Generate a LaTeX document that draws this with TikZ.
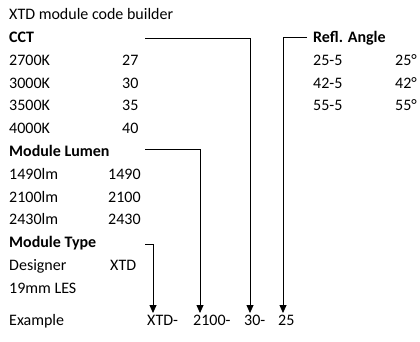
\documentclass[tikz,border=0pt]{standalone}
\usepackage{fontspec}
\setmainfont{Carlito}
\usetikzlibrary{arrows.meta}
\tikzset{
  txt/.style={anchor=base west, inner sep=0pt, font=\fontsize{16}{19}\selectfont},
  hd/.style={txt, font=\fontsize{16}{19}\selectfont\bfseries},
  link/.style={line width=0.8pt, -{Triangle[width=7pt,length=8pt]}}
}
\begin{document}
\begin{tikzpicture}[x=1pt,y=-1pt]
\useasboundingbox (0,0) rectangle (420,341);
\node [txt] (title) at (9,19.7) {XTD module code builder};
\node [hd] (cct) at (9,42.5) {CCT};
\node [txt] (k27) at (9,65.3) {2700K};
\node [txt] (v27) at (122,65.3) {27};
\node [txt] (k30) at (9,88.1) {3000K};
\node [txt] (v30) at (122,88.1) {30};
\node [txt] (k35) at (9,110.9) {3500K};
\node [txt] (v35) at (122,110.9) {35};
\node [txt] (k40) at (9,133.7) {4000K};
\node [txt] (v40) at (122,133.7) {40};
\node [hd] (lum) at (9,156.5) {Module Lumen};
\node [txt] (l1490) at (9,179.3) {1490lm};
\node [txt] (v1490) at (108,179.3) {1490};
\node [txt] (l2100) at (9,202.1) {2100lm};
\node [txt] (v2100) at (108,202.1) {2100};
\node [txt] (l2430) at (9,224.9) {2430lm};
\node [txt] (v2430) at (108,224.9) {2430};
\node [hd] (type) at (9,247.7) {Module Type};
\node [txt] (des) at (9,270.5) {Designer};
\node [txt] (vdes) at (110,270.5) {XTD};
\node [txt] (les) at (9,293.3) {19mm LES};
\node [hd] (refl) at (313,42.5) {Refl. Angle};
\node [txt] (a25) at (313,65.3) {25-5};
\node [txt] (v25) at (395,65.3) {25°};
\node [txt] (a42) at (313,88.1) {42-5};
\node [txt] (v42) at (395,88.1) {42°};
\node [txt] (a55) at (313,110.9) {55-5};
\node [txt] (v55) at (395,110.9) {55°};
\node [txt] (ex) at (9,325) {Example};
\node [txt] (cxtd) at (147,325) {XTD-};
\node [txt] (clum) at (193,325) {2100-};
\node [txt] (ccct) at (244,325) {30-};
\node [txt] (cang) at (278,325) {25};
\coordinate (cctline) at (145,38.5);
\coordinate (lumline) at (145,149.5);
\coordinate (typeline) at (145,244);
\coordinate (reflline) at (307,37);
\draw [link] (typeline) -| (153,313);
\draw [link] (lumline) -| (200,313);
\draw [link] (cctline) -| (250,313);
\draw [link] (reflline) -| (283,313);
\end{tikzpicture}
\end{document}
